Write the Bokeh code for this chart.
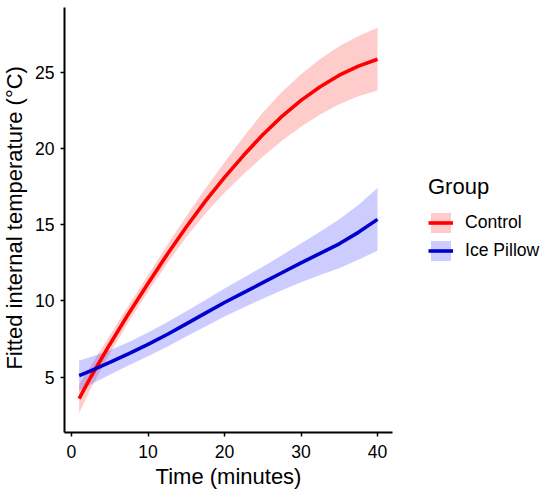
import math
from bokeh.plotting import figure
from bokeh.models import Range1d, Legend, LegendItem, ColumnDataSource, Label
from bokeh.embed import file_html
from bokeh.resources import INLINE

time = [1, 2.5, 5, 7.5, 10, 12.5, 15, 17.5, 20, 22.5, 25, 27.5, 30, 32.5, 35, 37.5, 40]

control_fit = [3.6, 5.0, 7.15, 9.2, 11.15, 13.05, 14.85, 16.55, 18.1, 19.55, 20.9, 22.1, 23.15, 24.05, 24.8, 25.4, 25.85]
control_lo = [2.65, 4.25, 6.55, 8.65, 10.6, 12.45, 14.17, 15.73, 17.1, 18.33, 19.45, 20.5, 21.43, 22.23, 22.9, 23.42, 23.8]
control_hi = [4.5, 5.72, 7.73, 9.73, 11.7, 13.65, 15.55, 17.37, 19.1, 20.77, 22.35, 23.7, 24.87, 25.87, 26.7, 27.38, 27.92]

pillow_fit = [5.1, 5.42, 5.97, 6.55, 7.15, 7.8, 8.5, 9.2, 9.9, 10.55, 11.2, 11.85, 12.5, 13.12, 13.75, 14.5, 15.35]
pillow_lo = [4.1, 4.52, 5.17, 5.79, 6.37, 7.0, 7.67, 8.33, 8.98, 9.57, 10.15, 10.7, 11.23, 11.7, 12.15, 12.7, 13.3]
pillow_hi = [6.1, 6.32, 6.77, 7.31, 7.93, 8.6, 9.33, 10.07, 10.82, 11.53, 12.25, 13.0, 13.77, 14.54, 15.35, 16.3, 17.4]

groups = ["Control", "Ice Pillow"]
x_ticks = [0, 10, 20, 30, 40]
y_ticks = [5, 10, 15, 20, 25]
x_title = "Time (minutes)"
y_title = "Fitted internal temperature (°C)"
legend_title = "Group"

FONT = "Liberation Sans"

# panel limits (data units) and the whole-canvas view around them
x_lo, x_hi = -0.915, 41.96
y_lo, y_hi = 1.37, 29.24

src_c = ColumnDataSource(dict(t=time, fit=control_fit, lo=control_lo, hi=control_hi))
src_p = ColumnDataSource(dict(t=time, fit=pillow_fit, lo=pillow_lo, hi=pillow_hi))

p = figure(width=550, height=496, output_backend="svg", toolbar_location=None,
           x_range=Range1d(-9.281, 62.61), y_range=Range1d(-2.82, 29.70),
           min_border_left=0, min_border_right=0, min_border_top=0, min_border_bottom=0)
p.grid.visible = False
p.outline_line_color = None
p.background_fill_color = "white"
p.border_fill_color = "white"

p.xaxis.ticker = x_ticks
p.yaxis.ticker = y_ticks
p.xaxis.bounds = (x_lo, x_hi)
p.yaxis.bounds = (y_lo, y_hi)
p.xaxis.fixed_location = y_lo
p.yaxis.fixed_location = x_lo
for ax in (p.xaxis, p.yaxis):
    ax.axis_line_color = "black"
    ax.axis_line_width = 2
    ax.major_tick_line_color = "black"
    ax.major_tick_line_width = 1.5
    ax.major_tick_in = 0
    ax.major_tick_out = 4
    ax.minor_tick_line_color = None
    ax.major_label_text_font = FONT
    ax.major_label_text_font_size = "17.6px"
    ax.major_label_text_color = "black"
p.yaxis.major_label_standoff = 6
p.xaxis.major_label_standoff = 8

p.add_layout(Label(x=(x_lo + x_hi) / 2, y=-1.50, text=x_title, text_align="center",
                   text_baseline="alphabetic", text_font=FONT, text_font_size="22px",
                   text_color="black"))
p.add_layout(Label(x=-7.45, y=15.45, text=y_title, angle=math.pi / 2, text_align="center",
                   text_baseline="alphabetic", text_font=FONT, text_font_size="22px",
                   text_color="black"))

rb = p.varea(x="t", y1="lo", y2="hi", source=src_c, fill_color="#FF0000", fill_alpha=0.2)
bb = p.varea(x="t", y1="lo", y2="hi", source=src_p, fill_color="#0000FF", fill_alpha=0.2)
rl = p.line(x="t", y="fit", source=src_c, line_color="#FF0000", line_width=3.6)
bl = p.line(x="t", y="fit", source=src_p, line_color="#0000CD", line_width=3.6)

legend = Legend(items=[LegendItem(label=groups[0], renderers=[rb, rl]),
                       LegendItem(label=groups[1], renderers=[bb, bl])],
                title=legend_title, location=(428, 233))
legend.title_text_font = FONT
legend.title_text_font_size = "22px"
legend.title_text_font_style = "normal"
legend.title_text_color = "black"
legend.title_standoff = 10
legend.label_text_font = FONT
legend.label_text_font_size = "17.6px"
legend.label_text_color = "black"
legend.glyph_width = 25
legend.glyph_height = 25
legend.spacing = 3
legend.label_standoff = 12
legend.padding = 0
legend.margin = 0
legend.border_line_color = None
legend.background_fill_alpha = 0
p.add_layout(legend, "center")

open("out.html", "w").write(file_html(p, INLINE))
